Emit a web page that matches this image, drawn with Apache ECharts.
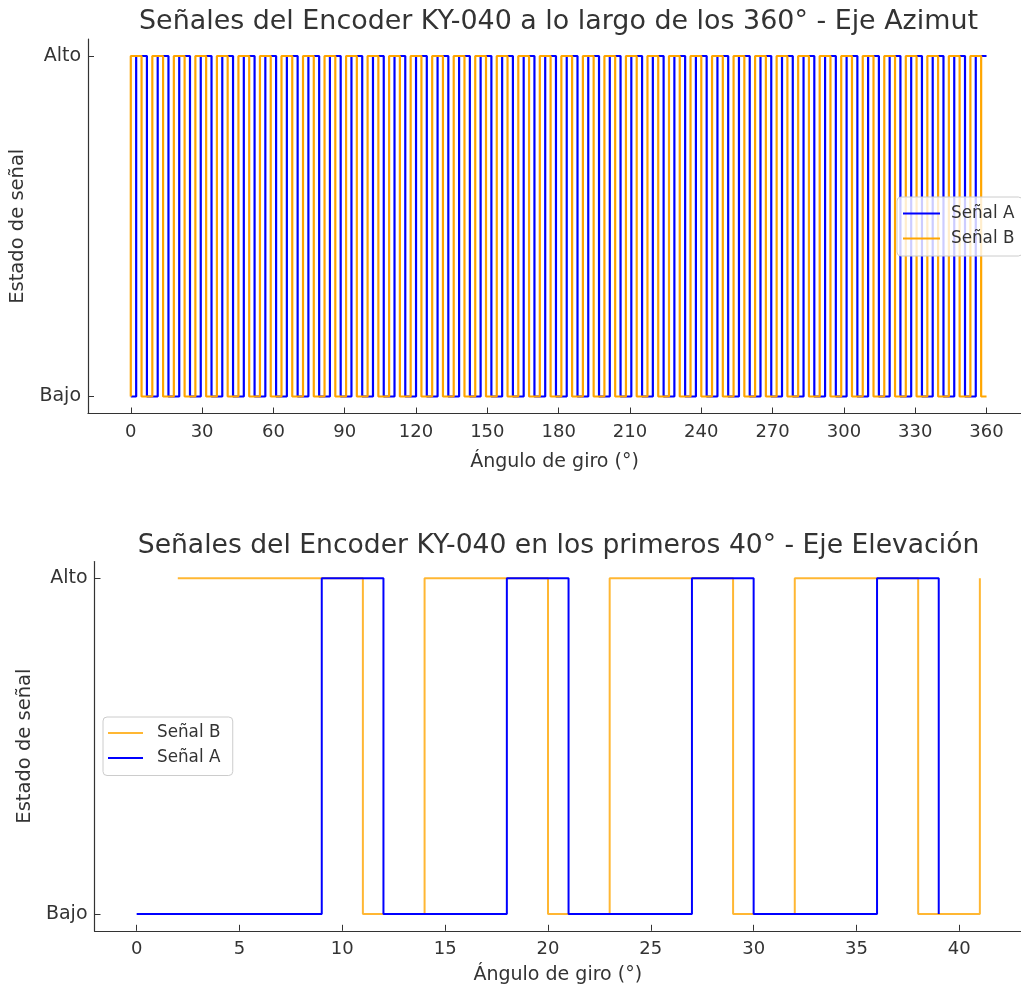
<!DOCTYPE html>
<html>
<head>
<meta charset="utf-8">
<script src="https://cdn.jsdelivr.net/npm/echarts@6/dist/echarts.min.js"></script>
<style>
  html, body { margin: 0; padding: 0; background: #ffffff; }
  #chart { width: 1021px; height: 987px; }
</style>
</head>
<body>
<div id="chart"></div>
<script>
// ---------- Data ----------
// Azimut: 160 samples between 0° and 360°, quadrature states per sample
const azimutSampleCount = 160;
const azimutAngles = Array.from({ length: azimutSampleCount }, (_, i) => i * 360 / (azimutSampleCount - 1));
const azimutA = [
  0,0,1,1,0,0,1,1,0,0,1,1,0,0,1,1,0,0,1,1,0,0,1,1,0,0,1,1,0,0,1,1,0,0,1,1,0,0,1,1,
  0,0,1,1,0,0,1,1,0,0,1,1,0,0,1,1,0,0,1,1,0,0,1,1,0,0,1,1,0,0,1,1,0,0,1,1,0,0,1,1,
  0,0,1,1,0,0,1,1,0,0,1,1,0,0,1,1,0,0,1,1,0,0,1,1,0,0,1,1,0,0,1,1,0,0,1,1,0,0,1,1,
  0,0,1,1,0,0,1,1,0,0,1,1,0,0,1,1,0,0,1,1,0,0,1,1,0,0,1,1,0,0,1,1,0,0,1,1,0,0,1,1
];
const azimutB = [
  0,1,1,0,0,1,1,0,0,1,1,0,0,1,1,0,0,1,1,0,0,1,1,0,0,1,1,0,0,1,1,0,0,1,1,0,0,1,1,0,
  0,1,1,0,0,1,1,0,0,1,1,0,0,1,1,0,0,1,1,0,0,1,1,0,0,1,1,0,0,1,1,0,0,1,1,0,0,1,1,0,
  0,1,1,0,0,1,1,0,0,1,1,0,0,1,1,0,0,1,1,0,0,1,1,0,0,1,1,0,0,1,1,0,0,1,1,0,0,1,1,0,
  0,1,1,0,0,1,1,0,0,1,1,0,0,1,1,0,0,1,1,0,0,1,1,0,0,1,1,0,0,1,1,0,0,1,1,0,0,1,1,0
];

// Elevación: transition points (angle, state)
const elevAnglesA = [0, 9, 12, 18, 21, 27, 30, 36, 39];
const elevA       = [0, 1, 0, 1, 0, 1, 0, 1, 0];
const elevAnglesB = [2, 11, 14, 20, 23, 29, 32, 38, 41];
const elevB       = [1, 0, 1, 0, 1, 0, 1, 0, 1];

const azimutTicks = [0, 30, 60, 90, 120, 150, 180, 210, 240, 270, 300, 330, 360];
const elevTicks = [0, 5, 10, 15, 20, 25, 30, 35, 40];
const stateTicks = [0, 1];
const stateLabels = ['Bajo', 'Alto'];

const titleTop = 'Señales del Encoder KY-040 a lo largo de los 360° - Eje Azimut';
const titleBottom = 'Señales del Encoder KY-040 en los primeros 40° - Eje Elevación';
const xName = 'Ángulo de giro (°)';
const yName = 'Estado de señal';
const nameA = 'Señal A';
const nameB = 'Señal B';

// ---------- Chart ----------
const FONT = 'DejaVu Sans';
const TXT = '#333333';
const BLUE = '#0000ff';
const ORANGE = '#ffa500';

function zip(xs, ys) { return xs.map((x, i) => [x, ys[i]]); }

function xAxisFor(gridIndex, min, max, ticks, gap) {
  return {
    type: 'value', gridIndex, min, max,
    name: xName, nameLocation: 'middle', nameGap: gap,
    nameTextStyle: { fontFamily: FONT, fontSize: 19, color: TXT },
    axisLine: { show: true, onZero: false, lineStyle: { color: '#333', width: 1.2 } },
    axisTick: { show: true, inside: true, length: 6, customValues: ticks, lineStyle: { color: '#333', width: 1 } },
    axisLabel: { customValues: ticks, fontFamily: FONT, fontSize: 18, color: TXT, margin: 10 },
    splitLine: { show: false }
  };
}
function yAxisFor(gridIndex, gap) {
  return {
    type: 'value', gridIndex, min: -0.05, max: 1.05,
    name: yName, nameLocation: 'middle', nameGap: gap, nameRotate: 90,
    nameTextStyle: { fontFamily: FONT, fontSize: 19.5, color: TXT },
    axisLine: { show: true, onZero: false, lineStyle: { color: '#333', width: 1.2 } },
    axisTick: { show: true, inside: true, length: 6, customValues: stateTicks, lineStyle: { color: '#333', width: 1 } },
    axisLabel: {
      customValues: stateTicks, fontFamily: FONT, fontSize: 19, color: TXT, margin: 7,
      formatter: v => stateLabels[stateTicks.indexOf(Math.round(v))] || ''
    },
    splitLine: { show: false }
  };
}

const chart = echarts.init(document.getElementById('chart'), null, { renderer: 'canvas' });
chart.setOption({
  animation: false,
  backgroundColor: '#ffffff',
  title: [
    { text: titleTop, left: 558.5, top: 9, textAlign: 'center', padding: 0,
      textStyle: { fontFamily: FONT, fontSize: 26.9, fontWeight: 'normal', color: TXT } },
    { text: titleBottom, left: 558.5, top: 533, textAlign: 'center', padding: 0,
      textStyle: { fontFamily: FONT, fontSize: 26.6, fontWeight: 'normal', color: TXT } }
  ],
  grid: [
    { left: 88, top: 39, right: 0, height: 374.5, containLabel: false },
    { left: 94.5, top: 561.5, right: 0, height: 369.3, containLabel: false }
  ],
  xAxis: [
    xAxisFor(0, -18, 374.5, azimutTicks, 39),
    xAxisFor(1, -2.05, 43.0, elevTicks, 35)
  ],
  yAxis: [
    yAxisFor(0, 60),
    yAxisFor(1, 53)
  ],
  legend: [
    {
      data: [nameA, nameB], orient: 'vertical', left: 897, top: 197,
      padding: [7, 8, 8, 6], itemGap: 6, itemWidth: 37, itemHeight: 2, icon: 'rect',
      backgroundColor: 'rgba(255,255,255,0.8)', borderColor: '#cccccc', borderWidth: 1, borderRadius: 4,
      textStyle: { fontFamily: FONT, fontSize: 16.8, color: TXT, lineHeight: 19, padding: [0, 0, 0, 6] }
    },
    {
      data: [nameB + ' ', nameA + ' '], orient: 'vertical', left: 103, top: 717,
      padding: [6.5, 7, 8, 5], itemGap: 6, itemWidth: 35, itemHeight: 2, icon: 'rect',
      backgroundColor: 'rgba(255,255,255,0.8)', borderColor: '#cccccc', borderWidth: 1, borderRadius: 4,
      textStyle: { fontFamily: FONT, fontSize: 16.8, color: TXT, lineHeight: 19, padding: [0, 0, 0, 9] }
    }
  ],
  series: [
    { name: nameA, type: 'line', xAxisIndex: 0, yAxisIndex: 0, step: 'start',
      data: zip(azimutAngles, azimutA), showSymbol: false, symbol: 'none',
      lineStyle: { color: BLUE, width: 2.2 }, itemStyle: { color: BLUE } },
    { name: nameB, type: 'line', xAxisIndex: 0, yAxisIndex: 0, step: 'start',
      data: zip(azimutAngles, azimutB), showSymbol: false, symbol: 'none',
      lineStyle: { color: ORANGE, width: 2.2 }, itemStyle: { color: ORANGE } },
    { name: nameB + ' ', type: 'line', xAxisIndex: 1, yAxisIndex: 1, step: 'end',
      data: zip(elevAnglesB, elevB), showSymbol: false, symbol: 'none',
      lineStyle: { color: ORANGE, width: 2, opacity: 0.8 }, itemStyle: { color: 'rgba(255,165,0,0.8)' } },
    { name: nameA + ' ', type: 'line', xAxisIndex: 1, yAxisIndex: 1, step: 'end',
      data: zip(elevAnglesA, elevA), showSymbol: false, symbol: 'none',
      lineStyle: { color: BLUE, width: 2 }, itemStyle: { color: BLUE } }
  ]
});
</script>
</body>
</html>
